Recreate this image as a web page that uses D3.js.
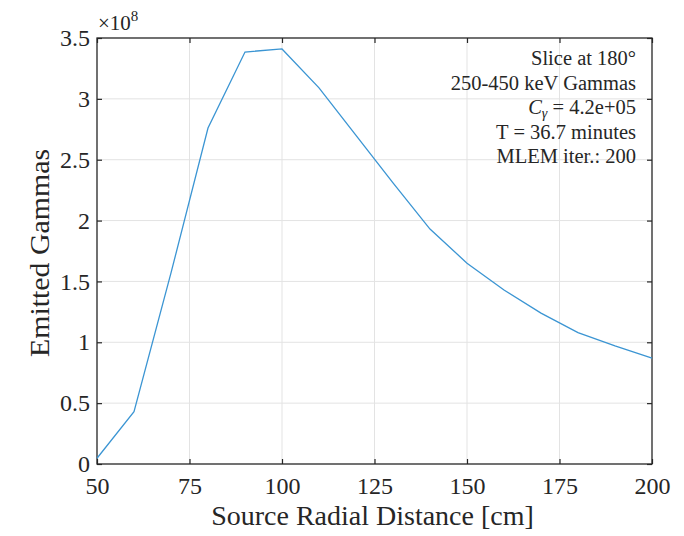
<!DOCTYPE html>
<html>
<head>
<meta charset="utf-8">
<script src="https://cdn.jsdelivr.net/npm/d3@7"></script>
<style>
  html, body { margin: 0; padding: 0; background: #fff; }
  svg { display: block; }
  text { font-family: "Liberation Serif", "DejaVu Serif", serif; fill: #262626; }
</style>
</head>
<body>
<div id="chart"></div>
<script>
// ---- data ----
const distances = [50, 60, 70, 80, 90, 100, 110, 120, 130, 140, 150, 160, 170, 180, 190, 200];
const gammas = [0.047, 0.43, 1.57, 2.76, 3.385, 3.41, 3.09, 2.70, 2.31, 1.93, 1.65, 1.43, 1.24, 1.08, 0.97, 0.87]; // x 1e8
const xTicks = [50, 75, 100, 125, 150, 175, 200];
const yTicks = [0, 0.5, 1, 1.5, 2, 2.5, 3, 3.5];
const yTickLabels = ["0", "0.5", "1", "1.5", "2", "2.5", "3", "3.5"];
const annotation = ["Slice at 180°", "250-450 keV Gammas", "Cγ = 4.2e+05", "T = 36.7 minutes", "MLEM iter.: 200"];

const W = 684, H = 536;
const m = { left: 97, right: 32, top: 38, bottom: 72 };
const pw = W - m.left - m.right, ph = H - m.top - m.bottom;

const svg = d3.select("#chart").append("svg").attr("width", W).attr("height", H);
const g = svg.append("g").attr("transform", `translate(${m.left},${m.top})`);

const x = d3.scaleLinear().domain([50, 200]).range([0, pw]);
const y = d3.scaleLinear().domain([0, 3.5]).range([ph, 0]);

// grid
g.append("g").selectAll("line").data(xTicks.slice(1, -1)).join("line")
  .attr("x1", d => x(d)).attr("x2", d => x(d)).attr("y1", 0).attr("y2", ph)
  .attr("stroke", "#e3e3e3").attr("stroke-width", 1);
g.append("g").selectAll("line").data(yTicks.slice(1, -1)).join("line")
  .attr("y1", d => y(d)).attr("y2", d => y(d)).attr("x1", 0).attr("x2", pw)
  .attr("stroke", "#e3e3e3").attr("stroke-width", 1);

// axes
const tickLen = 5;
const xAxisB = d3.axisBottom(x).tickValues(xTicks).tickSize(-tickLen).tickPadding(13).tickFormat(d3.format("d"));
const xAxisT = d3.axisTop(x).tickValues(xTicks).tickSize(-tickLen).tickFormat("");
const yAxisL = d3.axisLeft(y).tickValues(yTicks).tickSize(-tickLen).tickPadding(7).tickFormat((d, i) => yTickLabels[i]);
const yAxisR = d3.axisRight(y).tickValues(yTicks).tickSize(-tickLen).tickFormat("");

function style(sel) {
  sel.select(".domain").attr("stroke", "#262626").attr("stroke-width", 1.3);
  sel.selectAll(".tick line").attr("stroke", "#262626").attr("stroke-width", 1.2);
  sel.selectAll(".tick text").attr("font-size", 24).attr("fill", "#262626")
     .style("font-family", '"Liberation Serif", "DejaVu Serif", serif');
}
g.append("g").attr("transform", `translate(0,${ph})`).call(xAxisB).call(style);
g.append("g").call(xAxisT).call(style);
g.append("g").call(yAxisL).call(style);
g.append("g").attr("transform", `translate(${pw},0)`).call(yAxisR).call(style);
g.selectAll(".domain").attr("d", null);
g.append("rect").attr("x", 0).attr("y", 0).attr("width", pw).attr("height", ph)
  .attr("fill", "none").attr("stroke", "#262626").attr("stroke-width", 1.3);

// line
const line = d3.line().x((d, i) => x(distances[i])).y(d => y(d));
g.append("path").datum(gammas).attr("d", line)
  .attr("fill", "none").attr("stroke", "#3b95d3").attr("stroke-width", 1.3);

// exponent label
const ex = svg.append("text").attr("x", m.left + 1).attr("y", 30).attr("font-size", 21);
ex.append("tspan").text("×10");
ex.append("tspan").attr("dy", -9).attr("font-size", 15).text("8");

// annotation
const ann = g.append("g").attr("text-anchor", "end");
annotation.forEach((t, i) => {
  const tx = ann.append("text").attr("x", pw - 16).attr("y", 27 + i * 24.5).attr("font-size", 20.5);
  if (i === 2) {
    tx.append("tspan").attr("font-style", "italic").text("C");
    tx.append("tspan").attr("font-style", "italic").attr("font-size", 14).attr("dy", 4).text("γ");
    tx.append("tspan").attr("dy", -4).text(" = 4.2e+05");
  } else {
    tx.text(t);
  }
});

// axis titles
svg.append("text").attr("x", m.left + pw / 2 - 2).attr("y", 525).attr("text-anchor", "middle")
  .attr("font-size", 28).text("Source Radial Distance [cm]");
svg.append("text").attr("transform", `translate(49,${m.top + ph / 2 + 2}) rotate(-90)`)
  .attr("text-anchor", "middle").attr("font-size", 28)
  .attr("textLength", 208).attr("lengthAdjust", "spacingAndGlyphs").text("Emitted Gammas");
</script>
</body>
</html>
